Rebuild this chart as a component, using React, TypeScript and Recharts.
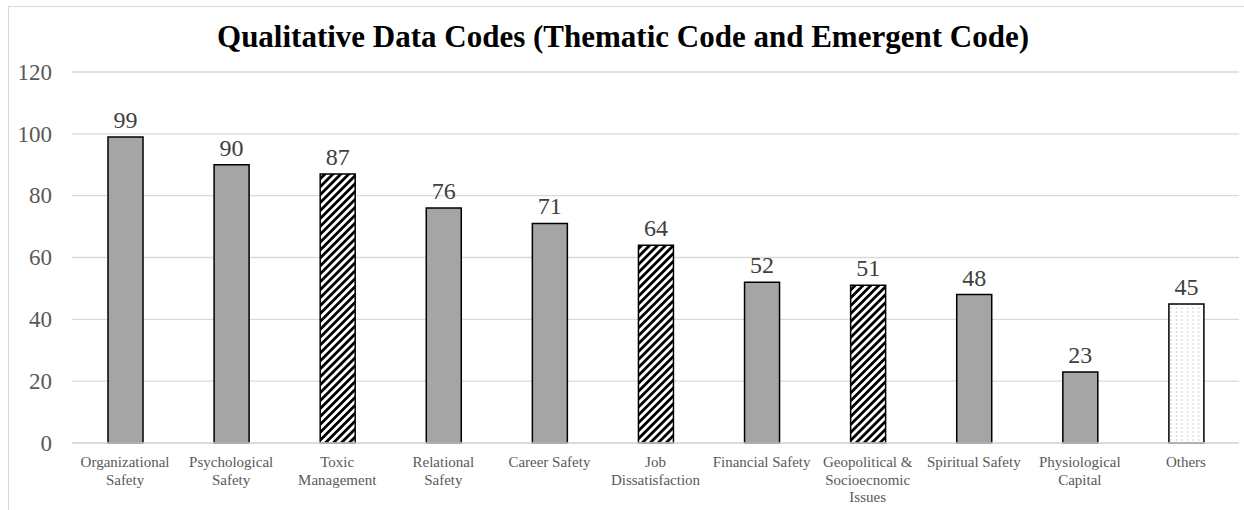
import React from "react";
import { BarChart, Bar, XAxis, YAxis, CartesianGrid, Cell, LabelList } from "recharts";

// Code categories (line breaks mark where the axis label wraps)
const categories: string[] = [
  "Organizational\nSafety",
  "Psychological\nSafety",
  "Toxic\nManagement",
  "Relational\nSafety",
  "Career Safety",
  "Job\nDissatisfaction",
  "Financial Safety",
  "Geopolitical &\nSocioecnomic\nIssues",
  "Spiritual Safety",
  "Physiological\nCapital",
  "Others",
];

// Number of coded references per category
const counts: number[] = [99, 90, 87, 76, 71, 64, 52, 51, 48, 23, 45];

// Kind of code: thematic (solid), emergent (hatched), other (dotted)
const codeKinds: string[] = [
  "thematic",
  "thematic",
  "emergent",
  "thematic",
  "thematic",
  "emergent",
  "thematic",
  "emergent",
  "thematic",
  "thematic",
  "other",
];

const yTicks: number[] = [0, 20, 40, 60, 80, 100, 120];

const data = categories.map((name, i) => ({ name, value: counts[i], kind: codeKinds[i] }));

const FONT = "'Liberation Serif', 'Times New Roman', serif";

const fillFor = (kind: string) =>
  kind === "emergent" ? "url(#hatch)" : kind === "other" ? "url(#dots)" : "#a5a5a5";

const CategoryTick = (props: any) => {
  const { x, y, payload } = props;
  const lines: string[] = String(payload.value).split("\n");
  return (
    <g>
      {lines.map((line, i) => (
        <text
          key={i}
          x={x}
          y={y + 24 + i * 17.5}
          textAnchor="middle"
          fill="#595959"
          style={{ fontFamily: FONT, fontSize: 15 }}
        >
          {line}
        </text>
      ))}
    </g>
  );
};

const ValueTick = (props: any) => {
  const { x, y, payload } = props;
  return (
    <text
      x={x}
      y={y}
      dy="0.34em"
      textAnchor="end"
      fill="#595959"
      style={{ fontFamily: FONT, fontSize: 23 }}
    >
      {payload.value}
    </text>
  );
};

const BarValueLabel = (props: any) => {
  const { x, y, width, value } = props;
  return (
    <text
      x={Number(x) + Number(width) / 2}
      y={Number(y) - 9}
      textAnchor="middle"
      fill="#404040"
      style={{ fontFamily: FONT, fontSize: 24 }}
    >
      {value}
    </text>
  );
};

export default function App() {
  return (
    <div
      style={{
        position: "fixed",
        left: 8,
        top: 6,
        width: 1236,
        height: 504,
        background: "#fff",
        fontFamily: FONT,
      }}
    >
      <div
        style={{
          position: "absolute",
          left: 0,
          top: 0,
          width: 1236,
          height: 504,
          borderLeft: "1px solid #d9d9d9",
          borderTop: "1px solid #d9d9d9",
          boxSizing: "border-box",
          pointerEvents: "none",
        }}
      />
      <div
        style={{
          position: "absolute",
          left: 0,
          top: 14,
          width: 1230,
          textAlign: "center",
          fontFamily: FONT,
          fontWeight: "bold",
          fontSize: 31,
          lineHeight: "34px",
          color: "#000",
        }}
      >
        Qualitative Data Codes (Thematic Code and Emergent Code)
      </div>
      <div style={{ position: "absolute", left: 0, top: 0 }}>
        <BarChart
          width={1236}
          height={504}
          data={data}
          margin={{ top: 66, right: 5, bottom: 7, left: 0 }}
        >
          <defs>
            <pattern
              id="hatch"
              patternUnits="userSpaceOnUse"
              width={5.6}
              height={5.6}
              patternTransform="rotate(45)"
            >
              <rect x={0} y={0} width={5.6} height={5.6} fill="#fff" />
              <rect x={0} y={0} width={2.8} height={5.6} fill="#000" />
            </pattern>
            <pattern id="dots" patternUnits="userSpaceOnUse" width={5.5} height={4}>
              <rect x={0} y={0} width={5.5} height={4} fill="#fff" />
              <rect x={2} y={1.5} width={1} height={1} fill="#a0a0a0" />
            </pattern>
          </defs>
          <CartesianGrid vertical={false} stroke="#d9d9d9" strokeWidth={1.3} />
          <XAxis
            dataKey="name"
            interval={0}
            height={60}
            tickLine={false}
            tickSize={0}
            tickMargin={0}
            axisLine={{ stroke: "#d9d9d9", strokeWidth: 1.5 }}
            tick={<CategoryTick />}
          />
          <YAxis
            domain={[0, 120]}
            ticks={yTicks}
            width={64}
            axisLine={false}
            tickLine={false}
            tickSize={0}
            tickMargin={20}
            tick={<ValueTick />}
          />
          <Bar dataKey="value" barSize={35} stroke="#000" strokeWidth={1.5} isAnimationActive={false}>
            {data.map((d, i) => (
              <Cell key={i} fill={fillFor(d.kind)} />
            ))}
            <LabelList dataKey="value" content={<BarValueLabel />} />
          </Bar>
        </BarChart>
      </div>
    </div>
  );
}
